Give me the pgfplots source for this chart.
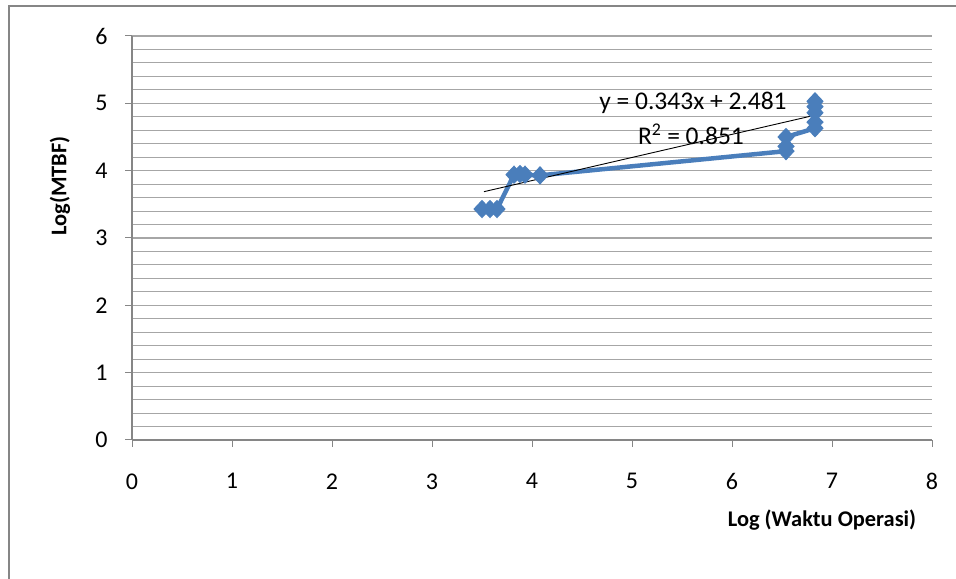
\documentclass[border=0pt]{standalone}
\usepackage{pgfplots}
\pgfplotsset{compat=1.18}
\usepackage{fontspec}
\setmainfont{Carlito}
\definecolor{xlblue}{HTML}{4A7EBB}
\definecolor{gridgray}{HTML}{A6A6A6}
\definecolor{axgray}{HTML}{868686}
\begin{document}
\begin{tikzpicture}[x=1bp,y=1bp]
\path[use as bounding box] (0,0) rectangle (956,579);
\draw[axgray, line width=2.5bp] (9,0) -- (9,573) -- (956,573);
\begin{axis}[
  at={(132bp,139bp)}, anchor=south west,
  scale only axis, width=800bp, height=404bp,
  xmin=0, xmax=8, ymin=0, ymax=6,
  xtick={0,...,8}, ytick={0,...,6},
  minor ytick={0.2,0.4,...,5.8},
  ymajorgrids, yminorgrids,
  major grid style={gridgray, line width=1.1bp},
  minor grid style={gridgray, line width=1.1bp},
  axis x line*=bottom, axis y line*=left,
  axis line style={axgray, line width=1.2bp, -},
  tick style={axgray, line width=1bp},
  major tick length=7bp, minor tick length=0pt,
  tick align=outside,
  every tick label/.style={font=\fontsize{24bp}{28bp}\selectfont},
  /pgf/number format/assume math mode=true,
  xticklabel style={yshift=-23bp},
  yticklabel style={xshift=-14bp},
  clip=false,
]
\addplot[xlblue, line width=4.5bp, mark=diamond*, mark size=8.5bp,
  mark options={fill=xlblue, draw=xlblue, line width=1bp, xscale=1.25}] coordinates {
  (3.50,3.43) (3.58,3.43) (3.65,3.43)
  (3.82,3.94) (3.88,3.95) (3.93,3.94) (4.08,3.93)
  (6.54,4.29) (6.54,4.36) (6.54,4.50)
  (6.83,4.63) (6.83,4.72) (6.83,4.86) (6.83,4.95) (6.83,5.03)
};
\addplot[black, line width=0.9bp] coordinates {(3.52,3.688) (6.83,4.824)};
\node[font=\fontsize{25.5bp}{30bp}\selectfont] at (axis cs:5.61,5.01) {y = 0.343x + 2.481};
\node[font=\fontsize{25.5bp}{30bp}\selectfont] at (axis cs:5.59,4.54) {R\textsuperscript{2} = 0.851};
\end{axis}
\node[rotate=90, font=\bfseries\fontsize{22.4bp}{26bp}\selectfont] at (60,393) {Log(MTBF)};
\node[font=\bfseries\fontsize{22.4bp}{26bp}\selectfont] at (822,59) {Log (Waktu Operasi)};
\end{tikzpicture}
\end{document}
